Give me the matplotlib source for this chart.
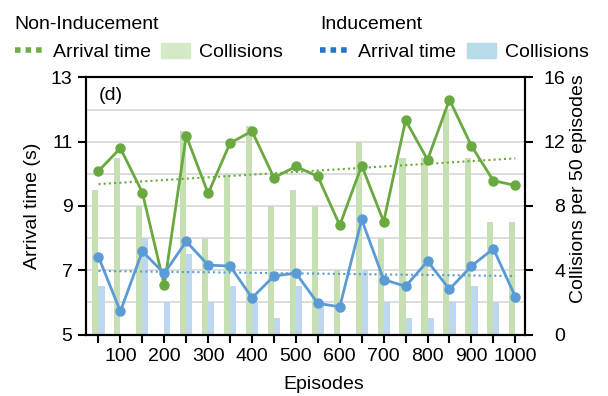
import numpy as np
import matplotlib
matplotlib.use('Agg')
import matplotlib.pyplot as plt
from matplotlib.lines import Line2D
from matplotlib.patches import Patch

plt.rcParams['font.family'] = ['Liberation Sans', 'DejaVu Sans']
plt.rcParams['font.size'] = 14

episodes = np.arange(50, 1001, 50)
time_non = [10.09, 10.80, 9.42, 6.54, 11.19, 9.39, 10.96, 11.33, 9.88, 10.23,
            9.92, 8.40, 10.26, 8.51, 11.67, 10.44, 12.31, 10.87, 9.79, 9.64]
time_ind = [7.42, 5.72, 7.59, 6.90, 7.90, 7.16, 7.13, 6.14, 6.82, 6.91,
            5.97, 5.86, 8.58, 6.71, 6.50, 7.28, 6.41, 7.13, 7.67, 6.18]
coll_non = [9, 11, 8, 0, 12.7, 6, 10, 13, 8, 9, 8, 4, 12, 6, 11, 11, 14, 11, 7, 7]
coll_ind = [3, 0, 6, 2, 5, 2, 3, 2, 1, 3, 2, 0, 4, 2, 1, 1, 2, 3, 2, 0]
tick_labels = [str(e) if e % 100 == 0 else '' for e in episodes]

green, blue = '#6aa93f', '#5b9bd5'
green_bar, blue_bar = '#c6e0b4', '#bdd7ee'

fig = plt.figure(figsize=(6.08, 3.96), dpi=100)
ax2 = fig.add_axes([0.1410, 0.1553, 0.7224, 0.649])
ax = ax2.twinx()
ax.yaxis.tick_left()
ax.yaxis.set_label_position('left')
ax2.yaxis.tick_right()
ax2.yaxis.set_label_position('right')
ax.set_zorder(ax2.get_zorder() + 1)
ax.patch.set_visible(False)

# bars on the right axis (behind)
w = 14
ax2.bar(episodes - w / 2, coll_non, width=w, color=green_bar, zorder=2)
ax2.bar(episodes + w / 2, coll_ind, width=w, color=blue_bar, zorder=2)
ax2.set_ylim(0, 16)
ax2.set_yticks([0, 4, 8, 12, 16])
ax2.set_yticks(range(0, 17, 2), minor=True)
ax2.grid(axis='y', which='both', color='#dddddd', lw=1.4, zorder=0)
ax2.set_axisbelow(True)
ax2.tick_params(axis='y', which='minor', length=0)
for t in ax2.get_yticklabels():
    t.set_ha('right')
ax2.set_ylabel('Collisions per 50 episodes')
ax2.yaxis.set_label_coords(1.103, 0.566)

# lines on the left axis
ax.plot(episodes, time_non, color=green, lw=2, marker='o', ms=6.5, zorder=4)
ax.plot(episodes, time_ind, color=blue, lw=2, marker='o', ms=6.5, zorder=4)
for y, c in [(time_non, green), (time_ind, blue)]:
    k, b = np.polyfit(episodes, y, 1)
    ax.plot(episodes[[0, -1]], k * episodes[[0, -1]] + b, color=c, lw=1.5,
            dashes=(1, 1.5), zorder=3)
ax.set_ylim(5, 13)
ax.set_yticks([5, 7, 9, 11, 13])
ax.set_ylabel('Arrival time (s)', labelpad=7)

ax2.set_xlim(21, 1022)
ax2.set_xticks(episodes)
ax2.set_xticklabels(tick_labels)
ax2.set_xlabel('Episodes', labelpad=8)
ax2.xaxis.label.set_x(0.5425)

for a in (ax, ax2):
    for s in a.spines.values():
        s.set_linewidth(1.5)
    a.tick_params(width=1.5, length=6, direction='out')
ax2.tick_params(axis='y', which='major', pad=23)

ax.text(0.029, 0.931, '(d)', transform=ax.transAxes, ha='left', va='center',
        fontsize=14, bbox=dict(fc='white', ec='none', pad=1))

def dotted(c):
    return Line2D([], [], color=c, lw=4, dashes=(1, 0.9))

common = dict(loc='upper left', ncol=2, frameon=False, alignment='left',
              fontsize=14, title_fontsize=14, handlelength=1.5, handleheight=0.8,
              handletextpad=0.45, columnspacing=0.55, borderpad=0)
fig.legend(handles=[dotted('#70ad47'), Patch(color='#d6e9c6')],
           labels=['Arrival time', 'Collisions'], title='Non-Inducement',
           bbox_to_anchor=(0.008, 0.983), **common)
fig.legend(handles=[dotted('#1f78c8'), Patch(color='#b7dbe9')],
           labels=['Arrival time', 'Collisions'], title='Inducement',
           bbox_to_anchor=(0.511, 0.983), **common)

fig.savefig('out.png', dpi=100)
